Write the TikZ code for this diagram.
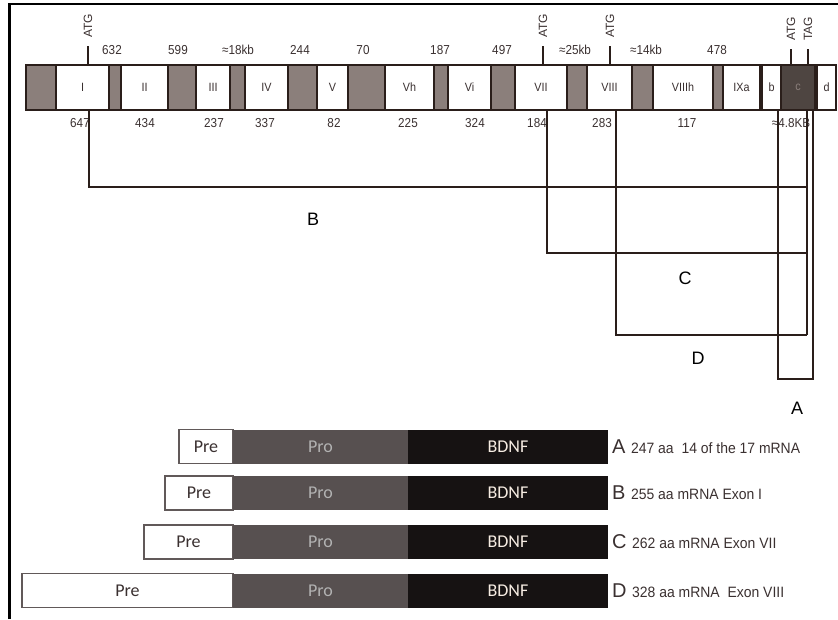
\documentclass[tikz,border=0pt]{standalone}
\usepackage{fontspec}
\setmainfont{Liberation Sans}
\newfontfamily\narrowfont[FakeStretch=0.9]{Liberation Sans}
\newfontfamily\labelfont[FakeStretch=0.93]{Liberation Sans}
\newfontfamily\barfont{Carlito}
\usetikzlibrary{positioning}

\definecolor{introngrey}{HTML}{8B7F7B}
\definecolor{exondark}{HTML}{4E4541}
\definecolor{linebrown}{HTML}{2A1E1A}
\definecolor{textgrey}{HTML}{3A3030}
\definecolor{progrey}{HTML}{575050}
\definecolor{bdnfblack}{HTML}{161212}

\begin{document}
\begin{tikzpicture}[x=1pt,y=-1pt,
    exon/.style={draw=linebrown,line width=1.8pt,fill=white,minimum height=45pt,
      inner sep=0pt,outer sep=0pt,text=textgrey,font=\narrowfont\fontsize{12}{12}\selectfont},
    atg/.style={rotate=90,inner sep=0pt,text=textgrey,font=\fontsize{12}{12}\selectfont},
    tick/.style={line width=1.8pt,draw=linebrown},
    len/.style={inner sep=0pt,text=textgrey,font=\narrowfont\fontsize{13}{13}\selectfont},
    tr/.style={line width=2pt,draw=linebrown},
    iso/.style={inner sep=0pt,font=\fontsize{18}{18}\selectfont},
    part/.style={minimum height=34pt,inner sep=0pt,outer sep=0pt,font=\barfont\fontsize{18}{18}\selectfont}
  ]
    \useasboundingbox (0,0) rectangle (838,619);
    \draw[line width=2.5pt] (9.5,619) -- (9.5,4) -- (838,4);

    % gene with introns
    \node[draw=linebrown,line width=1.8pt,fill=introngrey,minimum width=810pt,
      minimum height=45pt,inner sep=0pt] (gene) at (431,87.5) {};

    \foreach \l/\r/\nm/\lab in {56/109/eI/I,121/168/eII/II,196/230/eIII/III,245/288/eIV/IV,
        317/348/eV/V,385/434/eVh/Vh,448/491/eVi/Vi,515/567/eVII/VII,587/632/eVIII/VIII,
        653/713/eVIIIh/VIIIh,723/760/eIXa/IXa,762/781/eb/b,817/836/ed/d} {
      \node[exon,minimum width=\r pt-\l pt] (\nm) at ({(\l+\r)/2},87.5) {\lab};
    }
    \node[exon,fill=exondark,text=introngrey,minimum width=34pt] (ec) at (798,87.5) {c};

    % start and stop codons
    \node[atg] (atgI) at (88,26) {ATG};
    \node[atg] (atgVII) at (543,26) {ATG};
    \node[atg] (atgVIII) at (610,26) {ATG};
    \node[atg] (atgc) at (791,29) {ATG};
    \node[atg] (tagc) at (808,29) {TAG};
    \foreach \t/\e in {atgI/eI,atgVII/eVII,atgVIII/eVIII,atgc/ec,tagc/ec} {
      \draw[tick] ([yshift=-8pt]\t.west) -- (\t.west |- \e.north);
    }

    % intron and exon lengths
    \foreach \x/\n in {112/632,178/599,238/≈18kb,300/244,363/70,440/187,502/497,
        575/≈25kb,646/≈14kb,717/478} {
      \node[len] (up\x) at (\x,50) {\n};
    }
    \foreach \x/\n in {80/647,145/434,214/237,265/337,334/82,408/225,475/324,537/184,
        602/283,687/117,791/≈4.8KB} {
      \node[len] (dn\x) at (\x,123) {\n};
    }

    % transcripts
    \coordinate (jB) at (807,187);
    \coordinate (jC) at (807,253);
    \coordinate (jD) at (807,335);
    \coordinate (aEnd) at (813,379);
    \draw[tr] ([xshift=6.5pt]eI.south) |- (jB);
    \draw[tr] ([xshift=6pt]eVII.south) |- (jC);
    \draw[tr] ([xshift=6.5pt]eVIII.south) |- (jD);
    \draw[tr] ([xshift=-8pt]ec.south east) -- (jD);
    \draw[tr] ([xshift=-3pt]ec.south west) |- (aEnd) -- ([xshift=-2pt]ec.south east);

    \node[iso] (isoB) at (313,219) {B};
    \node[iso] (isoC) at (685,278) {C};
    \node[iso] (isoD) at (698,358) {D};
    \node[iso] (isoA) at (797,408) {A};

    % proteins
    \foreach \row/\y/\l/\txt in {A/446.5/179/{247 aa\ \ 14 of the 17 mRNA},
        B/493/165/{255 aa mRNA Exon I},C/542/144/{262 aa mRNA Exon VII},
        D/590.5/22/{328 aa mRNA\ \ Exon VIII}} {
      \node[part,draw=textgrey!80,line width=1.2pt,fill=white,text=textgrey,
        minimum width=233pt-\l pt] (pre\row) at ({(\l+233)/2},\y) {Pre};
      \node[part,fill=progrey,text=black!30,minimum width=175pt,right=0pt of pre\row] (pro\row) {Pro};
      \node[part,fill=bdnfblack,text=white!85!brown,minimum width=200pt,right=0pt of pro\row] (bdnf\row) {BDNF};
      \node[inner sep=0pt,anchor=west,right=4pt of bdnf\row,text=textgrey]
        (lab\row) {\fontsize{20}{20}\selectfont\row\ \labelfont\fontsize{15}{15}\selectfont\txt};
    }
\end{tikzpicture}
\end{document}
